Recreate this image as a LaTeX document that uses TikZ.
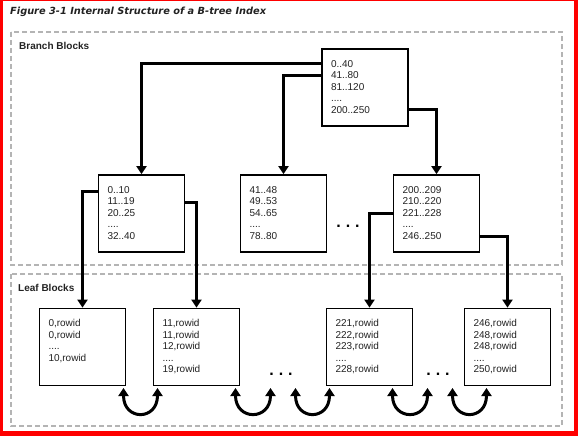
\documentclass[tikz,border=0pt]{standalone}
\usepackage{fontspec}
\setmainfont{Liberation Sans}
\newfontfamily\titlefont{DejaVu Sans}
\usetikzlibrary{arrows.meta}
\newcommand\blkbody[1]{\parbox[c][77pt][t]{86pt}{\fontsize{10}{11.6}\selectfont\leftskip=9pt\rule{0pt}{18pt}#1}}
\definecolor{zonegray}{HTML}{B4B4B4}
\definecolor{txt}{HTML}{222222}
\begin{document}
\begin{tikzpicture}[x=1pt,y=-1pt,
  blk/.style={draw=black, line width=1.8pt, inner sep=0pt, fill=white, text=txt},
  conn/.style={line width=3pt, -{Triangle[width=10pt,length=8pt]}},
  dbl/.style={line width=3pt, {Triangle[width=10pt,length=8pt]}-{Triangle[width=10pt,length=8pt]}},
  zone/.style={draw=zonegray, line width=1.4pt, dash pattern=on 5pt off 3pt},
  lbl/.style={inner sep=0pt, font=\fontsize{10}{12}\selectfont\bfseries, text=txt},
  ttl/.style={inner sep=0pt, font=\titlefont\fontsize{9.8}{11}\selectfont\bfseries\itshape, text=txt},
  ell/.style={inner sep=0pt, font=\fontsize{16}{16}\selectfont\bfseries}]
\useasboundingbox (0,0) rectangle (578,436);
% red frame
\fill[red] (0,0) rectangle (3,436);
\fill[red] (574,0) rectangle (578,436);
\fill[red] (0,431) rectangle (578,436);
\fill[red] (0,0) rectangle (578,1);
% zones
\draw[zone] (11,32) rectangle (562,265);
\draw[zone] (11,274) rectangle (562,426);
\node[ttl, anchor=west] (title) at (10,12) {Figure 3-1 Internal Structure of a B-tree Index};
\node[lbl, anchor=west] (lb) at (19,46) {Branch Blocks};
\node[lbl, anchor=west] (ll) at (18,288) {Leaf Blocks};
% blocks
\node[blk] (root) at (365,87.5) {\blkbody{0..40\\41..80\\81..120\\....\\200..250}};
\node[blk] (b1) at (141.5,213.5) {\blkbody{0..10\\11..19\\20..25\\....\\32..40}};
\node[blk] (b2) at (283.5,213.5) {\blkbody{41..48\\49..53\\54..65\\....\\78..80}};
\node[blk] (b3) at (436.5,213.5) {\blkbody{200..209\\210..220\\221..228\\....\\246..250}};
\node[blk] (l1) at (82.5,347) {\blkbody{0,rowid\\0,rowid\\....\\10,rowid}};
\node[blk] (l2) at (196.5,347) {\blkbody{11,rowid\\11,rowid\\12,rowid\\....\\19,rowid}};
\node[blk] (l3) at (369.5,347) {\blkbody{221,rowid\\222,rowid\\223,rowid\\....\\228,rowid}};
\node[blk] (l4) at (507.5,347) {\blkbody{246,rowid\\248,rowid\\248,rowid\\....\\250,rowid}};
% ellipses
\node[ell] (e1) at (348,226) {.\hspace{5pt}.\hspace{5pt}.};
\node[ell] (e2) at (281,374) {.\hspace{5pt}.\hspace{5pt}.};
\node[ell] (e3) at (438,374) {.\hspace{5pt}.\hspace{5pt}.};
% connectors
\draw[conn] (root.west |- 0,63.5) -| (b1.north);
\draw[conn] (root.west |- 0,75.5) -| (b2.north);
\draw[conn] (root.east |- 0,109.5) -| (b3.north);
\draw[conn] (b1.west |- 0,191.5) -| (l1.north);
\draw[conn] (b1.east |- 0,202.5) -| (l2.north);
\draw[conn] (b3.west |- 0,213.5) -| (l3.north);
\draw[conn] (b3.east |- 0,236.5) -| (l4.north);
% sibling links
\coordinate (p1a) at (123.5,388); \coordinate (p1b) at (157.5,388);
\coordinate (p2a) at (235.5,388); \coordinate (p2b) at (270.5,388);
\coordinate (p3a) at (295.5,388); \coordinate (p3b) at (329.5,388);
\coordinate (p4a) at (392.5,388); \coordinate (p4b) at (427.5,388);
\coordinate (p5a) at (452.5,388); \coordinate (p5b) at (486.5,388);
\foreach \p in {1,...,5}{
  \draw[dbl] (p\p a) .. controls +(0,33) and +(0,33) .. (p\p b);
}
\end{tikzpicture}
\end{document}
